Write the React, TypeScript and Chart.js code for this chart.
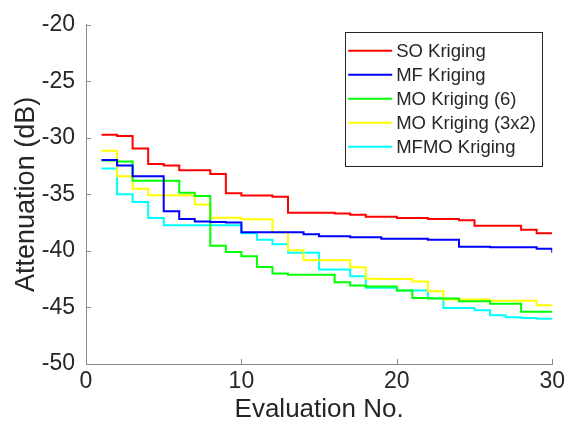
import { useEffect, useRef } from 'react';
import { Chart, registerables } from 'chart.js';

Chart.register(...registerables);

// ---- data ----
const evaluations = [
  1, 2, 3, 4, 5, 6, 7, 8, 9, 10, 11, 12, 13, 14, 15,
  16, 17, 18, 19, 20, 21, 22, 23, 24, 25, 26, 27, 28, 29, 30,
];
const soKriging = [
  -29.72, -29.84, -30.94, -32.32, -32.44, -32.87, -32.87, -33.19, -34.89, -35.09,
  -35.09, -35.21, -36.62, -36.62, -36.62, -36.68, -36.8, -36.97, -36.97, -37.08,
  -37.08, -37.17, -37.17, -37.29, -37.78, -37.78, -37.78, -38.12, -38.44, -38.44,
];
const mfKriging = [
  -31.95, -32.44, -33.4, -33.4, -36.5, -37.18, -37.4, -37.45, -37.49, -38.35,
  -38.35, -38.35, -38.35, -38.53, -38.7, -38.7, -38.79, -38.79, -38.93, -38.93,
  -38.93, -39.02, -39.02, -39.63, -39.63, -39.68, -39.68, -39.68, -39.8, -40.17,
];
const mo6Kriging = [
  -32.0, -32.1, -33.8, -33.8, -33.8, -34.85, -35.15, -39.54, -40.1, -40.47,
  -41.41, -41.99, -42.1, -42.1, -42.1, -42.77, -43.06, -43.15, -43.15, -43.5,
  -44.16, -44.2, -44.2, -44.45, -44.45, -44.68, -44.68, -45.37, -45.37, -45.37,
];
const mo3x2Kriging = [
  -31.14, -33.39, -34.5, -35.07, -35.07, -35.07, -35.9, -37.06, -37.06, -37.2,
  -37.2, -38.35, -39.95, -40.82, -40.82, -40.82, -41.45, -42.45, -42.48, -42.48,
  -42.7, -43.57, -44.3, -44.3, -44.3, -44.4, -44.4, -44.4, -44.8, -44.8,
];
const mfmoKriging = [
  -32.7, -34.98, -35.67, -37.08, -37.72, -37.72, -37.72, -37.72, -37.72, -38.44,
  -39.0, -39.4, -40.17, -40.17, -41.65, -41.65, -42.25, -43.25, -43.25, -43.5,
  -43.5, -44.18, -45.05, -45.05, -45.25, -45.68, -45.87, -45.94, -46.0, -46.0,
];

const seriesLabels = ['SO Kriging', 'MF Kriging', 'MO Kriging (6)', 'MO Kriging (3x2)', 'MFMO Kriging'];
const seriesColors = ['#ff0000', '#0000ff', '#00ff00', '#ffff00', '#00ffff'];
const seriesValues = [soKriging, mfKriging, mo6Kriging, mo3x2Kriging, mfmoKriging];

const xTickValues = [0, 10, 20, 30];
const yTickValues = [-50, -45, -40, -35, -30, -25, -20];
const xAxisTitle = 'Evaluation No.';
const yAxisTitle = 'Attenuation (dB)';

const FONT = "'Liberation Sans', Arial, Helvetica, sans-serif";
const TEXT = '#262626';
const AXIS = '#8a8a8a';

const matlabPlugin = {
  id: 'matlabDecor',
  afterDatasetsDraw(chart: any) {
    const { ctx, chartArea, scales } = chart;
    const xs = scales.x;
    const ys = scales.y;
    ctx.save();
    // inward ticks
    ctx.strokeStyle = AXIS;
    ctx.lineWidth = 1;
    ctx.beginPath();
    for (const v of yTickValues) {
      const y = Math.round(ys.getPixelForValue(v)) + 0.5;
      ctx.moveTo(chartArea.left, y);
      ctx.lineTo(chartArea.left + 5, y);
    }
    for (const v of xTickValues) {
      const x = Math.round(xs.getPixelForValue(v)) + 0.5;
      ctx.moveTo(x, chartArea.bottom);
      ctx.lineTo(x, chartArea.bottom - 5);
    }
    ctx.stroke();

    // legend box
    const boxW = 197;
    const boxH = 134;
    const boxRight = chartArea.right - 10;
    const boxTop = chartArea.top + 7;
    const boxLeft = boxRight - boxW;
    ctx.fillStyle = '#ffffff';
    ctx.fillRect(boxLeft, boxTop, boxW, boxH);
    ctx.strokeStyle = TEXT;
    ctx.lineWidth = 1;
    ctx.strokeRect(Math.round(boxLeft) + 0.5, Math.round(boxTop) + 0.5, boxW, boxH);
    ctx.font = `18.5px ${FONT}`;
    ctx.textBaseline = 'middle';
    ctx.textAlign = 'left';
    chart.data.datasets.forEach((ds: any, i: number) => {
      const cy = boxTop + 19 + i * 24;
      ctx.strokeStyle = ds.borderColor;
      ctx.lineWidth = 2;
      ctx.beginPath();
      ctx.moveTo(boxLeft + 3, cy);
      ctx.lineTo(boxLeft + 47, cy);
      ctx.stroke();
      ctx.fillStyle = TEXT;
      ctx.fillText(ds.label, boxLeft + 51, cy + 1);
    });
    ctx.restore();
  },
};

export default function App() {
  const canvasRef = useRef<HTMLCanvasElement | null>(null);

  useEffect(() => {
    const canvas = canvasRef.current;
    if (!canvas) return;
    const chart = new Chart(canvas, {
      type: 'line',
      data: {
        datasets: seriesValues.map((vals, i) => ({
          label: seriesLabels[i],
          data: evaluations.map((x, j) => ({ x, y: vals[j] })),
          borderColor: seriesColors[i],
          backgroundColor: seriesColors[i],
          borderWidth: 2,
          pointRadius: 0,
          stepped: 'before' as const,
          fill: false,
        })),
      },
      options: {
        responsive: false,
        animation: false,
        layout: { padding: { top: 17, right: 16, left: 0, bottom: 0 } },
        plugins: {
          legend: { display: false },
          tooltip: { enabled: false },
        },
        scales: {
          x: {
            type: 'linear',
            min: 0,
            max: 30,
            afterBuildTicks: (scale: any) => {
              scale.ticks = xTickValues.map((v) => ({ value: v }));
            },
            afterFit: (scale: any) => {
              scale.height = 75;
            },
            grid: { display: false, drawTicks: false },
            border: { display: true, color: AXIS, width: 1 },
            ticks: {
              color: TEXT,
              font: { family: FONT, size: 23 },
              padding: 4,
              maxRotation: 0,
            },
            title: {
              display: true,
              text: xAxisTitle,
              color: TEXT,
              font: { family: FONT, size: 26 },
              padding: { top: 0, bottom: 14 },
            },
          },
          y: {
            type: 'linear',
            min: -50,
            max: -20,
            afterBuildTicks: (scale: any) => {
              scale.ticks = yTickValues.map((v) => ({ value: v }));
            },
            afterFit: (scale: any) => {
              scale.width = 86;
            },
            grid: { display: false, drawTicks: false },
            border: { display: true, color: AXIS, width: 1 },
            ticks: {
              color: TEXT,
              font: { family: FONT, size: 23 },
              padding: 11,
            },
            title: {
              display: true,
              text: yAxisTitle,
              color: TEXT,
              font: { family: FONT, size: 27 },
              padding: { top: 10, bottom: 0 },
            },
          },
        },
      },
      plugins: [matlabPlugin],
    });
    return () => chart.destroy();
  }, []);

  return (
    <div style={{ position: 'fixed', left: 0, top: 0, width: 569, height: 439, background: '#fff' }}>
      <canvas ref={canvasRef} width={569} height={439} style={{ display: 'block' }} />
    </div>
  );
}
